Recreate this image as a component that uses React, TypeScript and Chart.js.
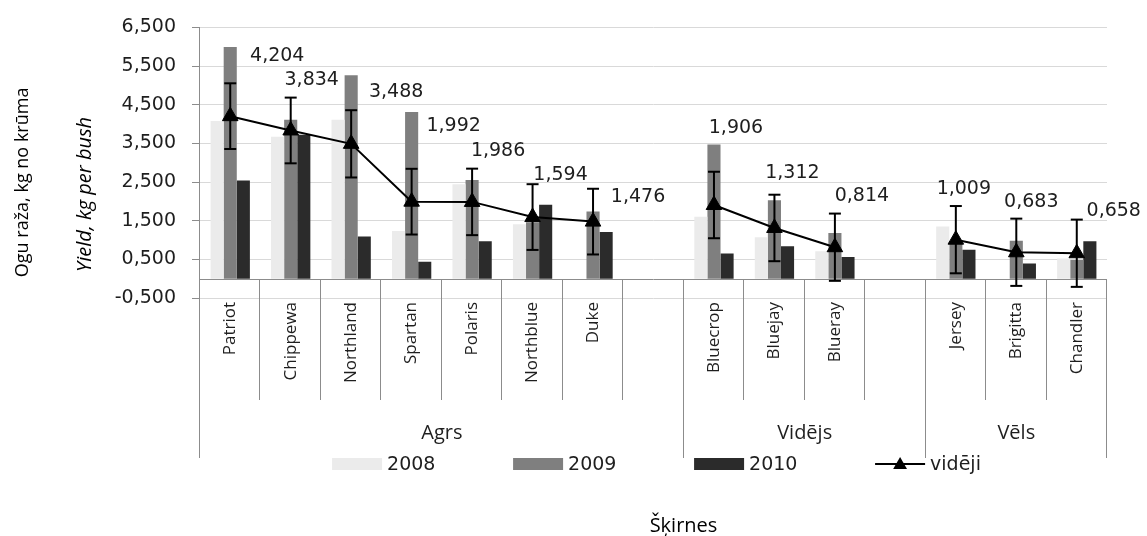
import React, { useEffect, useRef } from 'react';
import { Chart, registerables } from 'chart.js';

Chart.register(...registerables);

// ---- data ----
const categories = [
  'Patriot', 'Chippewa', 'Northland', 'Spartan', 'Polaris', 'Northblue', 'Duke', '',
  'Bluecrop', 'Bluejay', 'Blueray', '',
  'Jersey', 'Brigitta', 'Chandler',
];
const groupNames = ['Agrs', 'Vidējs', 'Vēls'];
const groupSizes = [8, 4, 3];
const seriesNames = ['2008', '2009', '2010', 'vidēji'];
const yield2008 = [4.08, 3.67, 4.11, 1.23, 2.44, 1.41, null, null, 1.6, 1.07, 0.71, null, 1.35, null, 0.52];
const yield2009 = [5.99, 4.11, 5.26, 4.31, 2.55, 1.46, 1.74, null, 3.47, 2.03, 1.18, null, 0.93, 0.98, 0.48];
const yield2010 = [2.54, 3.72, 1.09, 0.44, 0.97, 1.91, 1.21, null, 0.65, 0.84, 0.56, null, 0.75, 0.39, 0.97];
const average = [4.204, 3.834, 3.488, 1.992, 1.986, 1.594, 1.476, null, 1.906, 1.312, 0.814, null, 1.009, 0.683, 0.658];
const errorHalf = [0.85, 0.85, 0.87, 0.85, 0.86, 0.85, 0.85, null, 0.86, 0.86, 0.87, null, 0.87, 0.87, 0.87];
const yTicks = [-0.5, 0.5, 1.5, 2.5, 3.5, 4.5, 5.5, 6.5];
const yTitle = 'Ogu raža, kg no krūma';
const yTitleEn = 'Yield, kg per bush';
const xTitle = 'Šķirnes';

// label placement (relative to each average point), styling
const labelShift: (number[] | null)[] = [
  [47, -60], [21, -50], [45, -52], [42, -76], [26, -51], [28, -42], [45, -25], null,
  [22, -77], [18, -55], [27, -51], null, [8, -51], [15, -50], [37, -42],
];
const C2008 = '#ebebeb';
const C2009 = '#7f7f7f';
const C2010 = '#2b2b2b';
const AXIS = '#8c8c8c';
const GRID = '#d9d9d9';
const TEXT = '#1e1e1e';
const NUM_FONT = '19px "DejaVu Sans"';
const LBL_FONT = '20px "Open Sans"';

const fmt = (v: number) => v.toFixed(3).replace('.', ',');

function hline(ctx: CanvasRenderingContext2D, x1: number, x2: number, y: number) {
  ctx.beginPath();
  ctx.moveTo(x1, y);
  ctx.lineTo(x2, y);
  ctx.stroke();
}
function vline(ctx: CanvasRenderingContext2D, x: number, y1: number, y2: number) {
  ctx.beginPath();
  ctx.moveTo(x, y1);
  ctx.lineTo(x, y2);
  ctx.stroke();
}
function triangle(ctx: CanvasRenderingContext2D, cx: number, cy: number, r: number) {
  ctx.beginPath();
  ctx.moveTo(cx, cy - r);
  ctx.lineTo(cx + r * 0.866, cy + r * 0.5);
  ctx.lineTo(cx - r * 0.866, cy + r * 0.5);
  ctx.closePath();
  ctx.fill();
}

const decorPlugin = {
  id: 'decor',
  afterDatasetsDraw(chart: any) {
    const ctx: CanvasRenderingContext2D = chart.ctx;
    const xs = chart.scales.x;
    const ys = chart.scales.y;
    const ca = chart.chartArea;
    ctx.save();
    // category axis at zero
    const y0 = Math.round(ys.getPixelForValue(0)) + 0.5;
    ctx.strokeStyle = AXIS;
    ctx.lineWidth = 1;
    hline(ctx, ca.left, ca.right, y0);

    // error bars
    ctx.strokeStyle = '#000';
    ctx.lineWidth = 2;
    average.forEach((m, i) => {
      const e = errorHalf[i];
      if (m == null || e == null) return;
      const x = xs.getPixelForValue(i);
      const yt = ys.getPixelForValue(m + e);
      const yb = ys.getPixelForValue(m - e);
      vline(ctx, x, yt, yb);
      hline(ctx, x - 6, x + 6, yt);
      hline(ctx, x - 6, x + 6, yb);
    });

    // value labels
    ctx.fillStyle = TEXT;
    ctx.font = NUM_FONT;
    ctx.textAlign = 'center';
    ctx.textBaseline = 'middle';
    average.forEach((m, i) => {
      const s = labelShift[i];
      if (m == null || !s) return;
      const x = xs.getPixelForValue(i);
      const y = ys.getPixelForValue(m);
      ctx.fillText(fmt(m), x + s[0], y + s[1]);
    });
    ctx.restore();
  },
  afterDraw(chart: any) {
    const ctx: CanvasRenderingContext2D = chart.ctx;
    const xs = chart.scales.x;
    const ys = chart.scales.y;
    const ca = chart.chartArea;
    const y0 = Math.round(ys.getPixelForValue(0));
    const slot = (ca.right - ca.left) / categories.length;
    const shortEnd = ca.bottom + 102;
    const longEnd = ca.bottom + 160;
    ctx.save();
    ctx.strokeStyle = AXIS;
    ctx.lineWidth = 1;
    // value axis line
    vline(ctx, Math.round(ca.left) - 0.5, ca.top, longEnd);
    // category separators
    const groupEdges: number[] = [0];
    groupSizes.forEach((g) => groupEdges.push(groupEdges[groupEdges.length - 1] + g));
    for (let k = 1; k <= categories.length; k++) {
      const x = Math.round(ca.left + k * slot) - 0.5;
      const isGroup = groupEdges.includes(k);
      vline(ctx, x, y0, isGroup ? longEnd : shortEnd);
    }
    // group labels
    ctx.fillStyle = TEXT;
    ctx.font = LBL_FONT;
    ctx.textAlign = 'center';
    ctx.textBaseline = 'middle';
    groupNames.forEach((g, i) => {
      const a = ca.left + groupEdges[i] * slot;
      const b = ca.left + groupEdges[i + 1] * slot;
      ctx.fillText(g, (a + b) / 2, ca.bottom + 135);
    });

    // legend
    const ly = ca.bottom + 166;
    const stride = 181;
    ctx.font = NUM_FONT;
    const lastW = 50 + 5 + ctx.measureText(seriesNames[3]).width;
    const total = 3 * stride + lastW;
    const lx0 = (ca.left + ca.right) / 2 - total / 2 + 3;
    const colors = [C2008, C2009, C2010];
    ctx.textAlign = 'left';
    seriesNames.forEach((name, i) => {
      const x = lx0 + i * stride;
      if (i < 3) {
        ctx.fillStyle = colors[i];
        ctx.fillRect(x, ly - 6, 50, 12);
      } else {
        ctx.strokeStyle = '#000';
        ctx.lineWidth = 2;
        hline(ctx, x, x + 50, ly);
        ctx.fillStyle = '#000';
        triangle(ctx, x + 25, ly + 1, 8);
      }
      ctx.fillStyle = TEXT;
      ctx.fillText(name, x + 55, ly + 1);
    });

    // axis titles
    ctx.fillStyle = '#000';
    ctx.textAlign = 'center';
    ctx.font = LBL_FONT;
    ctx.fillText(xTitle, (ca.left + ca.right) / 2 + 30, ca.bottom + 228);

    ctx.save();
    ctx.translate(23, ca.top + 155);
    ctx.rotate(-Math.PI / 2);
    ctx.font = '18px "Open Sans"';
    ctx.fillText(yTitle, 0, 0);
    ctx.restore();

    ctx.save();
    ctx.translate(85, ca.top + 167);
    ctx.rotate(-Math.PI / 2);
    ctx.font = 'italic 20px "Open Sans"';
    ctx.fillText(yTitleEn, 0, 0);
    ctx.restore();

    ctx.restore();
  },
};

export default function App() {
  const ref = useRef<HTMLCanvasElement>(null);
  useEffect(() => {
    const barCommon = { categoryPercentage: 0.65, barPercentage: 1, borderWidth: 0, order: 2 };
    const chart = new Chart(ref.current as HTMLCanvasElement, {
      type: 'bar',
      data: {
        labels: categories,
        datasets: [
          { type: 'bar', label: seriesNames[0], data: yield2008, backgroundColor: C2008, ...barCommon },
          { type: 'bar', label: seriesNames[1], data: yield2009, backgroundColor: C2009, ...barCommon },
          { type: 'bar', label: seriesNames[2], data: yield2010, backgroundColor: C2010, ...barCommon },
          {
            type: 'line',
            label: seriesNames[3],
            data: average,
            borderColor: '#000',
            borderWidth: 2,
            pointStyle: 'triangle',
            pointRadius: 9,
            pointBackgroundColor: '#000',
            pointBorderColor: '#000',
            pointBorderWidth: 1,
            spanGaps: false,
            tension: 0,
            order: 0,
          },
        ],
      } as any,
      options: {
        responsive: true,
        maintainAspectRatio: false,
        animation: false,
        events: [],
        layout: { padding: { left: 0, right: 40, top: 24, bottom: 0 } },
        plugins: {
          legend: { display: false },
          tooltip: { enabled: false },
          title: { display: false },
        },
        scales: {
          x: {
            type: 'category',
            offset: true,
            grid: { display: false, drawTicks: false },
            border: { display: false },
            ticks: {
              autoSkip: false,
              maxRotation: 90,
              minRotation: 90,
              padding: 4,
              color: TEXT,
              font: { family: 'Open Sans', size: 17 },
            },
            afterFit: (s: any) => {
              s.height = 238;
            },
          },
          y: {
            min: -0.5,
            max: 6.5,
            afterBuildTicks: (s: any) => {
              s.ticks = yTicks.map((v) => ({ value: v }));
            },
            grid: { color: GRID, tickColor: AXIS, tickLength: 8, drawTicks: true },
            border: { display: false },
            ticks: {
              padding: 16,
              color: TEXT,
              font: { family: 'DejaVu Sans', size: 19 },
              callback: (v: any) => fmt(Number(v)),
            },
            afterFit: (s: any) => {
              s.width = 200;
            },
          },
        },
      } as any,
      plugins: [decorPlugin],
    });
    return () => chart.destroy();
  }, []);
  return (
    <div style={{ position: 'absolute', left: 0, top: 0, width: 1147, height: 536, background: '#fff' }}>
      <canvas ref={ref} />
    </div>
  );
}
